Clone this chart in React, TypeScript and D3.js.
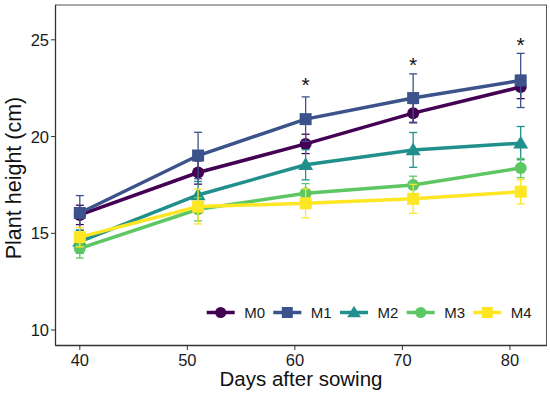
import { scaleLinear, line } from 'd3'

// days after sowing
const days = [40, 51, 61, 71, 81]
const seriesNames = ['M0', 'M1', 'M2', 'M3', 'M4']
const colors = ['#440154', '#3B528B', '#21908C', '#5DC863', '#FDE725']
const shapes = ['circle', 'square', 'triangle', 'circle', 'square']

// mean plant height (cm)
const m0 = [15.95, 18.14, 19.62, 21.21, 22.56]
const m1 = [16.05, 19.02, 20.9, 21.99, 22.9]
const m2 = [14.57, 16.98, 18.54, 19.31, 19.66]
const m3 = [14.22, 16.24, 17.07, 17.5, 18.37]
const m4 = [14.8, 16.38, 16.55, 16.78, 17.15]

// error (+/-)
const e0 = [0.5, 0.6, 0.5, 0.5, 0.6]
const e1 = [0.9, 1.2, 1.15, 1.25, 1.4]
const e2 = [0.6, 0.7, 0.78, 0.9, 0.86]
const e3 = [0.5, 0.6, 0.5, 0.45, 0.5]
const e4 = [0.5, 0.9, 0.75, 0.75, 0.63]

const means = [m0, m1, m2, m3, m4]
const errs = [e0, e1, e2, e3, e4]

// significance stars
const starDays = [61, 71, 81]
const starY = [22.9, 23.95, 24.95]

const xTicks = [40, 50, 60, 70, 80]
const yTicks = [10, 15, 20, 25]

const width = 550
const height = 394
const margin = { top: 5, right: 3.5, bottom: 48.5, left: 55.5 }
const innerWidth = width - margin.left - margin.right
const innerHeight = height - margin.top - margin.bottom

const font = 'Liberation Sans, Arial, sans-serif'

const Marker = ({ shape, x, y, color, size = 6 }) => {
    if (shape === 'circle') return <circle cx={x} cy={y} r={size} fill={color} />
    if (shape === 'square') return <rect x={x - size} y={y - size} width={size * 2} height={size * 2} fill={color} />
    let s = size * 1.25
    return <path d={`M${x},${y - s}L${x + s},${y + s * 0.7}L${x - s},${y + s * 0.7}Z`} fill={color} />
}

const App = () => {
    let xScale = scaleLinear().domain([37.74, 83.4]).range([0, innerWidth])
    let yScale = scaleLinear().domain([9.2, 26.8]).range([innerHeight, 0])

    let lineGen = line<number>()
        .x((d, i) => xScale(days[i]))
        .y(d => yScale(d))

    let legendX = [206.7, 273.3, 340, 406.7, 473.3]
    let legendY = 312.5

    return (
        <svg width={width} height={height} style={{ position: 'absolute', left: 0, top: 0, background: 'white' }} fontFamily={font}>
            <g transform={`translate(${margin.left},${margin.top})`}>
                <rect x={0} y={0} width={innerWidth} height={innerHeight} fill='none' stroke='#555' strokeWidth={1} />
                <line x1={0} x2={0} y1={0} y2={innerHeight} stroke='#333' strokeWidth={1.3} />
                <line x1={0} x2={innerWidth} y1={innerHeight} y2={innerHeight} stroke='#333' strokeWidth={1.5} />

                {yTicks.map(t => (
                    <g key={t} transform={`translate(0,${yScale(t)})`}>
                        <line x1={-4.5} x2={0} stroke='#333' />
                        <text x={-6.5} dy='0.36em' textAnchor='end' fontSize={16.5} fill='#1a1a1a'>{t}</text>
                    </g>
                ))}
                {xTicks.map(t => (
                    <g key={t} transform={`translate(${xScale(t)},${innerHeight})`}>
                        <line y1={0} y2={4.5} stroke='#333' />
                        <text y={20} textAnchor='middle' fontSize={16.5} fill='#1a1a1a'>{t}</text>
                    </g>
                ))}

                {means.map((vals, si) => (
                    <g key={seriesNames[si]}>
                        <path d={lineGen(vals)} fill='none' stroke={colors[si]} strokeWidth={3.5} />
                        {vals.map((v, i) => {
                            let x = xScale(days[i])
                            let hi = yScale(v + errs[si][i])
                            let lo = yScale(v - errs[si][i])
                            return (
                                <g key={i} stroke={colors[si]} strokeWidth={1.3}>
                                    <line x1={x} x2={x} y1={hi} y2={lo} />
                                    <line x1={x - 4} x2={x + 4} y1={hi} y2={hi} />
                                    <line x1={x - 4} x2={x + 4} y1={lo} y2={lo} />
                                </g>
                            )
                        })}
                        {vals.map((v, i) => (
                            <Marker key={i} shape={shapes[si]} x={xScale(days[i])} y={yScale(v)} color={colors[si]} />
                        ))}
                    </g>
                ))}

                {starDays.map((d, i) => (
                    <text key={d} x={xScale(d)} y={yScale(starY[i])} dy='0.55em' textAnchor='middle' fontSize={21} fill='#111'>*</text>
                ))}
            </g>

            {seriesNames.map((n, i) => (
                <g key={n} transform={`translate(${legendX[i]},${legendY})`}>
                    <line x1={0} x2={28} stroke={colors[i]} strokeWidth={3.5} />
                    <Marker shape={shapes[i]} x={14} y={0} color={colors[i]} size={5.5} />
                    <text x={37.5} dy='0.36em' fontSize={15} fill='#1a1a1a'>{n}</text>
                </g>
            ))}

            <text x={margin.left + innerWidth / 2} y={386} textAnchor='middle' fontSize={20.5} fill='#111'>Days after sowing</text>
            <text transform={`translate(20.5,178) rotate(-90)`} textAnchor='middle' fontSize={21.5} fill='#111'>Plant height (cm)</text>
        </svg>
    )
}

export default App
